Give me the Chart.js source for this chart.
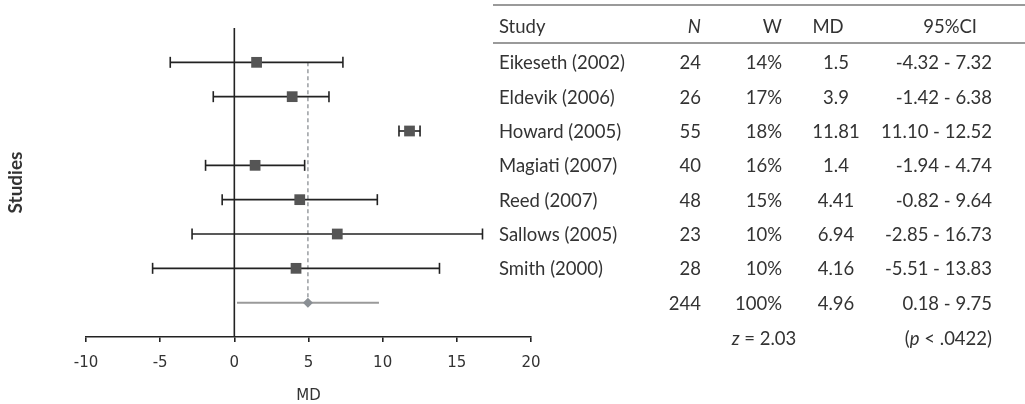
<!DOCTYPE html>
<html lang="en">
<head>
    <meta charset="UTF-8">
    <title>Forest plot</title>
    <style>
        body { margin: 0; background: #fff; }
        #wrap { position: relative; width: 1025px; height: 404px; overflow: hidden; }
        #plot { position: absolute; left: 0; top: 0; width: 545px; height: 404px; }
        #table { position: absolute; left: 0; top: 0; width: 1025px; height: 404px;
                 font-family: Lato, "Open Sans", sans-serif; font-size: 18.5px; color: #333; }
        .cell { position: absolute; height: 24px; line-height: 24px; white-space: nowrap; }
        .rule { position: absolute; left: 493px; width: 532px; height: 2px; background: #9a9a9a; }
    </style>
</head>
<body>
<div id="wrap">
    <div id="plot"><canvas id="forest"></canvas></div>
    <div id="table"></div>
</div>
<script src="https://cdn.jsdelivr.net/npm/chart.js"></script>
<script>
    // study data
    const studies = ["Eikeseth (2002)", "Eldevik (2006)", "Howard (2005)", "Magiati (2007)", "Reed (2007)", "Sallows (2005)", "Smith (2000)"];
    const sampleN = [24, 26, 55, 40, 48, 23, 28];
    const weights = [14, 17, 18, 16, 15, 10, 10];
    const md = [1.5, 3.9, 11.81, 1.4, 4.41, 6.94, 4.16];
    const ciLow = [-4.32, -1.42, 11.10, -1.94, -0.82, -2.85, -5.51];
    const ciHigh = [7.32, 6.38, 12.52, 4.74, 9.64, 16.73, 13.83];

    // pooled result
    const totalN = 244;
    const totalW = 100;
    const pooledMd = 4.96;
    const pooledCi = [0.18, 9.75];
    const zValue = "2.03";
    const pValue = ".0422";

    const xTicks = [-10, -5, 0, 5, 10, 15, 20];

    const pooledRow = studies.length;

    let datasets = [];

    // squares
    datasets.push({
        type: "scatter",
        data: md.map((v, i) => ({x: v, y: i})),
        pointStyle: "rect",
        pointRadius: 7.6,
        pointBackgroundColor: "#555",
        pointBorderWidth: 0
    });

    // pooled diamond
    datasets.push({
        type: "scatter",
        data: [{x: pooledMd, y: pooledRow}],
        pointStyle: "rectRot",
        pointRadius: 5,
        pointBackgroundColor: "#8a8f94",
        pointBorderWidth: 0
    });

    // whiskers with caps
    for (let i = 0; i < studies.length; i++) {
        datasets.push({
            type: "line",
            data: [{x: ciLow[i], y: i}, {x: ciHigh[i], y: i}],
            borderColor: "#222",
            borderWidth: 1.6,
            pointStyle: "line",
            pointRotation: 90,
            pointRadius: 5.5,
            pointBorderColor: "#222",
            pointBorderWidth: 1.6
        });
    }

    // pooled interval, no caps
    datasets.push({
        type: "line",
        data: [{x: pooledCi[0], y: pooledRow}, {x: pooledCi[1], y: pooledRow}],
        borderColor: "#9a9a9a",
        borderWidth: 2,
        pointRadius: 0
    });

    // dashed line at the pooled estimate
    datasets.push({
        type: "line",
        data: [{x: pooledMd, y: 0}, {x: pooledMd, y: pooledRow}],
        borderColor: "#9a9ea2",
        borderWidth: 1.5,
        borderDash: [4, 3],
        pointRadius: 0
    });

    // line of no effect
    datasets.push({
        type: "line",
        data: [{x: 0, y: -1}, {x: 0, y: pooledRow + 1}],
        borderColor: "#222",
        borderWidth: 1.6,
        pointRadius: 0
    });

    const tickFont = {family: "'DejaVu Sans', sans-serif", size: 15};

    const chart = new Chart(document.getElementById("forest"), {
        type: "scatter",
        data: {datasets: datasets},
        options: {
            responsive: true,
            maintainAspectRatio: false,
            animation: false,
            events: [],
            layout: {padding: {left: 4, right: 14, top: 28, bottom: 0}},
            plugins: {legend: {display: false}, tooltip: {enabled: false}},
            scales: {
                x: {
                    type: "linear",
                    min: -10,
                    max: 20,
                    afterBuildTicks: (s) => { s.ticks = xTicks.map(v => ({value: v})); },
                    afterFit: (s) => { s.height = 67; s.paddingLeft = 0; s.paddingRight = 0; },
                    border: {display: true, color: "#222", width: 1.6},
                    grid: {drawOnChartArea: false, drawTicks: true, tickLength: 5, color: "#222", lineWidth: 1.6},
                    ticks: {color: "#333", font: tickFont, padding: 12, maxRotation: 0},
                    title: {display: true, text: "MD", color: "#333",
                            font: {family: "'DejaVu Sans', sans-serif", size: 15, lineHeight: 1.0}, padding: {top: 0, bottom: 0}}
                },
                y: {
                    type: "linear",
                    reverse: true,
                    min: -1,
                    max: pooledRow + 1,
                    afterFit: (s) => { s.width = 82; },
                    border: {display: false},
                    grid: {display: false},
                    ticks: {display: false},
                    title: {display: true, text: "Studies", color: "#333",
                            font: {family: "Lato, 'Open Sans', sans-serif", size: 19, weight: "bold"}, padding: 0}
                }
            }
        }
    });

    // table on the right, rows placed on the chart's own y scale
    const tbl = document.getElementById("table");
    const yScale = chart.scales.y;

    function cell(html, y, x, align) {
        let d = document.createElement("div");
        d.className = "cell";
        d.innerHTML = html;
        d.style.top = (y - 12) + "px";
        if (align === "left") {
            d.style.left = x + "px";
        } else if (align === "right") {
            d.style.right = (1025 - x) + "px";
        } else {
            d.style.left = (x - 100) + "px";
            d.style.width = "200px";
            d.style.textAlign = "center";
        }
        tbl.appendChild(d);
    }

    function rule(y) {
        let d = document.createElement("div");
        d.className = "rule";
        d.style.top = (y - 1) + "px";
        tbl.appendChild(d);
    }

    const colStudy = 499, colN = 701, colW = 782, colMd = 836, colCi = 992;

    rule(5);
    rule(43);
    cell("Study", 26, colStudy, "left");
    cell("<i>N</i>", 26, colN, "right");
    cell("W", 26, colW, "right");
    cell("MD", 26, 828, "center");
    cell("95%CI", 26, 977, "right");

    for (let i = 0; i < studies.length; i++) {
        let y = yScale.getPixelForValue(i);
        cell(studies[i], y, colStudy, "left");
        cell(String(sampleN[i]), y, colN, "right");
        cell(weights[i] + "%", y, colW, "right");
        cell(String(md[i]), y, colMd, "center");
        cell(ciLow[i].toFixed(2) + " - " + ciHigh[i].toFixed(2), y, colCi, "right");
    }

    let yp = yScale.getPixelForValue(pooledRow);
    cell(String(totalN), yp, colN, "right");
    cell(totalW + "%", yp, colW, "right");
    cell(String(pooledMd), yp, colMd, "center");
    cell(pooledCi[0].toFixed(2) + " - " + pooledCi[1].toFixed(2), yp, colCi, "right");

    let yz = yScale.getPixelForValue(pooledRow + 1) + 1;
    cell("<i>z</i> = " + zValue, yz, 764, "center");
    cell("(<i>p</i> &lt; " + pValue + ")", yz, colCi, "right");
</script>
</body>
</html>
